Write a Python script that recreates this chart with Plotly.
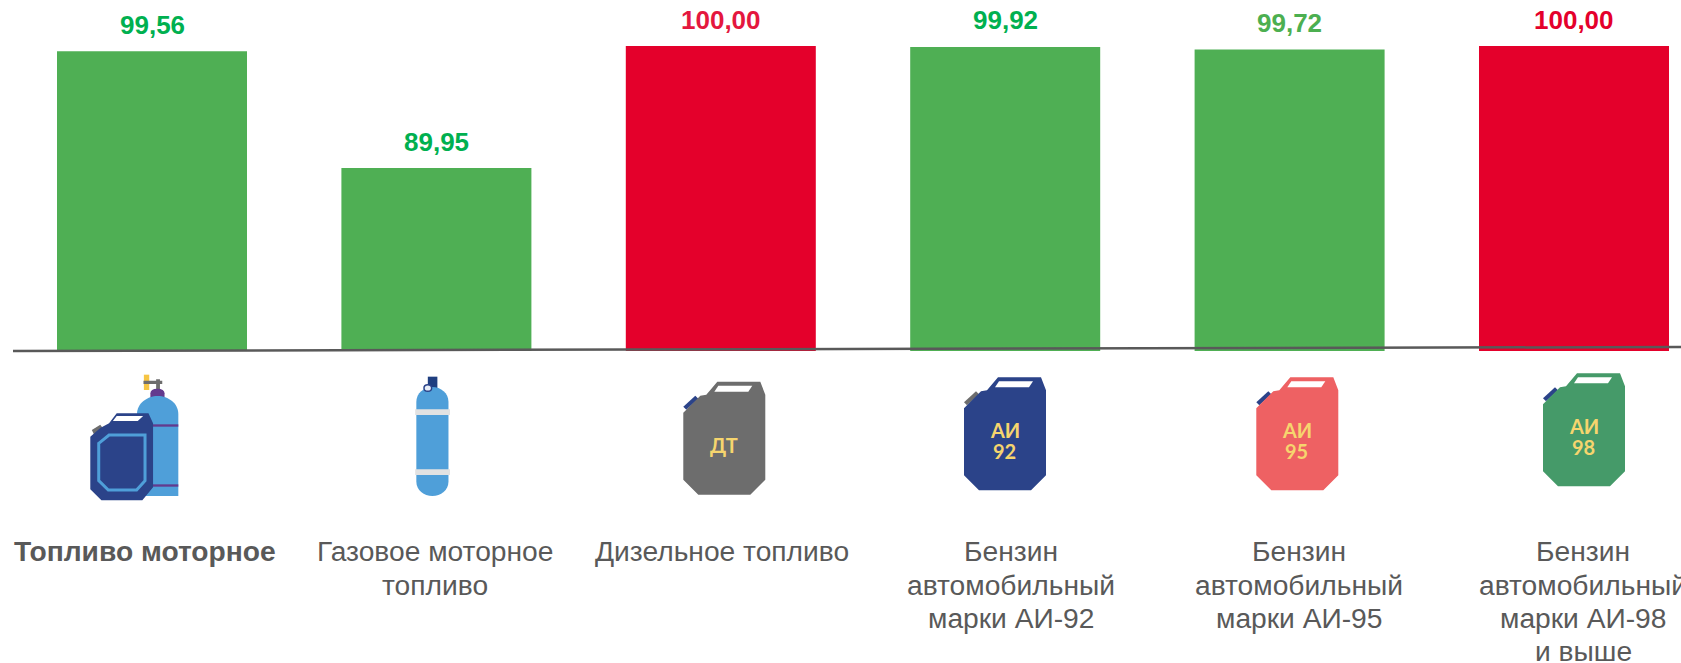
import plotly.graph_objects as go

W, H = 1681, 663

categories = ["Топливо моторное", "Газовое моторное топливо", "Дизельное топливо",
              "Бензин автомобильный марки АИ-92", "Бензин автомобильный марки АИ-95",
              "Бензин автомобильный марки АИ-98 и выше"]
values = [99.56, 89.95, 100.00, 99.92, 99.72, 100.00]
value_labels = ["99,56", "89,95", "100,00", "99,92", "99,72", "100,00"]
bar_colors = ["#4FAF54", "#4FAF54", "#E4002B", "#4FAF54", "#4FAF54", "#E4002B"]
label_colors = ["#00B050", "#00B050", "#E4173E", "#00B050", "#4CAF50", "#E4002B"]
tick_labels = [["<b>Топливо моторное</b>"], ["Газовое моторное", "топливо"], ["Дизельное топливо"],
               ["Бензин", "автомобильный", "марки АИ-92"], ["Бензин", "автомобильный", "марки АИ-95"],
               ["Бензин", "автомобильный", "марки АИ-98", "и выше"]]
tick_label_x = [145, 435, 721.5, 1011, 1299, 1583]
tick_row_y = [551, 585, 617.7, 651]

BASE_PX = 351
PX_PER_UNIT = 12.14
y_min = 100 - (BASE_PX - 46) / PX_PER_UNIT
y_max = y_min + BASE_PX / PX_PER_UNIT
x_first, x_step = 152.0, 284.4

fig = go.Figure(go.Bar(x=categories, y=values, marker=dict(color=bar_colors, line=dict(width=0)),
                       width=190 / x_step, hoverinfo="skip"))

def px(x, y):
    return f"{x / W:.5f},{1 - y / H:.5f}"

def poly(points, ox=0, oy=0, sx=1, sy=1):
    return "M" + " L".join(px(ox + a * sx, oy + b * sy) for a, b in points) + " Z"

shapes = []
def add(path, fill, line=None, lw=0):
    shapes.append(dict(type="path", xref="paper", yref="paper", path=path, fillcolor=fill,
                       line=dict(color=line or fill, width=lw), layer="above"))

shapes.append(dict(type="line", xref="paper", yref="paper", x0=13 / W, y0=1 - 351 / H, x1=1, y1=1 - 347 / H,
                   line=dict(color="#595959", width=2.5), layer="above"))

CAN = [(0, 31), (17, 14), (23, 13), (34, 0), (77, 0), (82, 13), (82, 98), (67, 113), (15, 113), (0, 98)]
WIN = [(35, 4), (69, 4), (65, 10), (31, 10)]
CAP = [(0, 25), (12, 14), (15, 17), (3, 28)]
NAVY, GREY = "#2B4389", "#6D6D6D"
YELLOW = "#F6D56E"
cans = [(683.3, 381.7, GREY, NAVY, ["ДТ"]),
        (964, 377.3, NAVY, GREY, ["АИ", "92"]),
        (1256.3, 377.3, "#EE6163", NAVY, ["АИ", "95"]),
        (1543, 373.3, "#459A69", NAVY, ["АИ", "98"])]
annotations = []
for ox, oy, body, cap, txt in cans:
    add(poly(CAP, ox, oy), cap)
    add(poly(CAN, ox, oy), body)
    add(poly(WIN, ox, oy), "#FFFFFF")
    ys = [63] if len(txt) == 1 else [53, 74]
    for t, dy in zip(txt, ys):
        annotations.append(dict(xref="paper", yref="paper", x=(ox + 40.5) / W, y=1 - (oy + dy) / H, text=f"<b>{t}</b>",
                                showarrow=False, xanchor="center", yanchor="middle",
                                font=dict(family="Lato", size=20, color=YELLOW)))

# helper for the two cylinder icons, in crop coordinates
def z(x, y):
    return px(x / 2.6133, 340 + y / 3.0)
def zpoly(points):
    return "M" + " L".join(z(a, b) for a, b in points) + " Z"

BLUE = "#4F9FD9"
PURPLE = "#633A8E"
# motor fuel icon: cylinder behind can
add(zpoly([(376, 104), (390, 104), (390, 150), (376, 150)]), "#F6C544")
add(zpoly([(375, 122), (408, 122), (408, 118), (418, 118), (418, 122), (424, 122), (424, 132), (418, 132),
           (418, 150), (408, 150), (408, 132), (375, 132)]), "#6D6D6D")
add(f"M{z(393,176)} L{z(393,160)} Q{z(393,146)} {z(411,146)} Q{z(430,146)} {z(430,160)} L{z(430,176)} Z", PURPLE)
add(f"M{z(358,468)} L{z(358,222)} C{z(358,190)} {z(385,168)} {z(412,168)} C{z(440,168)} {z(466,190)} {z(466,222)} L{z(466,468)} Z", BLUE)
add(zpoly([(395, 253), (466, 253), (466, 260), (395, 260)]), PURPLE)
add(zpoly([(395, 433), (466, 433), (466, 440), (395, 440)]), PURPLE)
add(zpoly([(240, 270), (262, 254), (269, 265), (246, 284)]), GREY)
add(zpoly([(236, 290), (262, 264), (285, 250), (305, 220), (388, 220), (400, 250), (400, 442), (372, 481),
           (265, 481), (236, 448)]), NAVY)
add(zpoly([(305, 228), (374, 228), (360, 243), (295, 243)]), "#FFFFFF")
shapes.append(dict(type="path", xref="paper", yref="paper",
                   path=zpoly([(258, 310), (285, 285), (379, 285), (379, 422), (357, 450), (283, 450), (258, 422)]),
                   line=dict(color=BLUE, width=3), fillcolor="rgba(0,0,0,0)", layer="above"))

# gas cylinder icon
add(zpoly([(1118, 110), (1143, 110), (1143, 145), (1118, 145)]), "#1F3F80")
add(f"M{z(1088,185)} C{z(1088,160)} {z(1108,141)} {z(1130,141)} C{z(1152,141)} {z(1172,160)} {z(1172,185)} "
    f"L{z(1172,425)} C{z(1172,450)} {z(1152,468)} {z(1130,468)} C{z(1108,468)} {z(1088,450)} {z(1088,425)} Z", BLUE)
add(zpoly([(1085, 208), (1176, 208), (1176, 225), (1085, 225)]), "#E2E2E2")
add(zpoly([(1085, 388), (1176, 388), (1176, 405), (1085, 405)]), "#E2E2E2")
c = (1118, 144)
r = 10
add(f"M{z(c[0]-r,c[1])} Q{z(c[0]-r,c[1]-r)} {z(c[0],c[1]-r)} Q{z(c[0]+r,c[1]-r)} {z(c[0]+r,c[1])} "
    f"Q{z(c[0]+r,c[1]+r)} {z(c[0],c[1]+r)} Q{z(c[0]-r,c[1]+r)} {z(c[0]-r,c[1])} Z", "#E8EEF8", "#2B4389", 1.5)

# value labels, placed from the data
for cat, v, t, col in zip(categories, values, value_labels, label_colors):
    annotations.append(dict(x=cat, y=v, xref="x", yref="y", text=f"<b>{t}</b>", showarrow=False, yshift=26.5,
                            xanchor="center", yanchor="middle",
                            font=dict(family="Liberation Sans", size=26, color=col)))

for rows, x in zip(tick_labels, tick_label_x):
    for t, y in zip(rows, tick_row_y):
        annotations.append(dict(xref="paper", yref="paper", x=x / W, y=1 - y / H, text=t, showarrow=False,
                                xanchor="center", yanchor="middle", align="center",
                                font=dict(family="Liberation Sans", size=28.2, color="#595959")))

fig.update_layout(
    width=W, height=H, margin=dict(l=0, r=0, t=0, b=0, pad=0), autosize=False,
    paper_bgcolor="#FFFFFF", plot_bgcolor="#FFFFFF", showlegend=False,
    shapes=shapes, annotations=annotations,
    xaxis=dict(type="category", categoryorder="array", categoryarray=categories, visible=False,
               range=[-x_first / x_step, (W - x_first) / x_step]),
    yaxis=dict(visible=False, domain=[1 - BASE_PX / H, 1], range=[y_min, y_max]),
)
fig.write_html("out.html", config=dict(displayModeBar=False),
               post_script="document.body.style.margin='0';document.body.style.overflow='hidden';")
